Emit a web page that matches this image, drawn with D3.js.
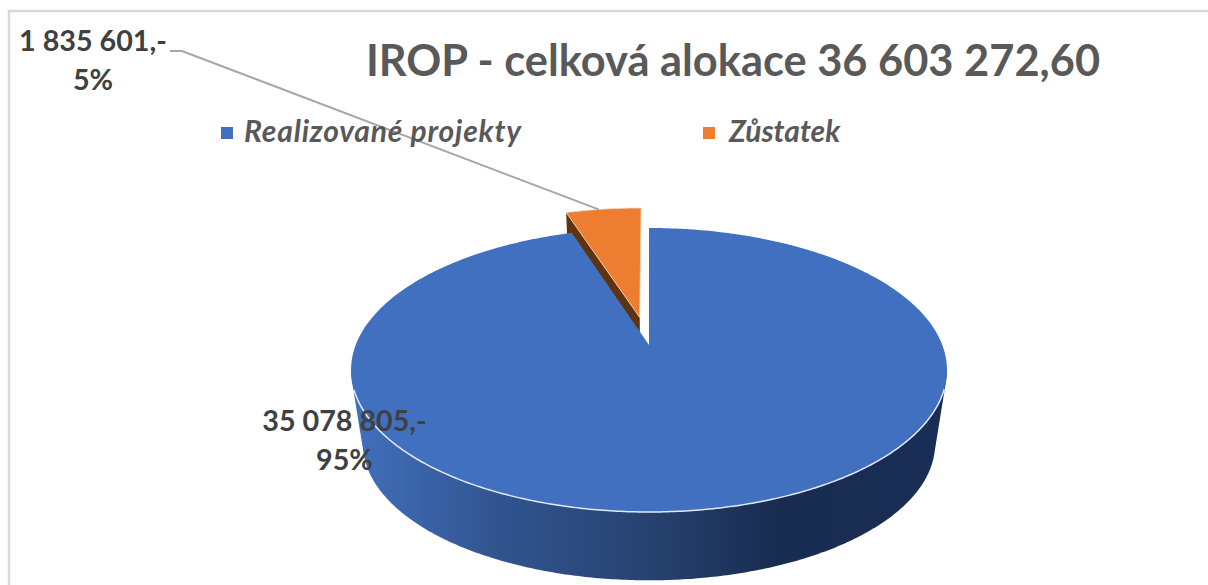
<!DOCTYPE html>
<html>
<head>
<meta charset="utf-8">
<script src="https://cdn.jsdelivr.net/npm/d3@7"></script>
<style>
html, body { margin: 0; padding: 0; background: #fff; overflow: hidden; }
text { font-family: Lato, "Open Sans", sans-serif; }
</style>
</head>
<body>
<div id="chart"></div>
<script>
var chartTitle = "IROP - celková alokace 36 603 272,60";
var categories = ["Realizované projekty", "Zůstatek"];
var values = [35078805, 1835601];
var valueLabels = ["35 078 805,-", "1 835 601,-"];
var percentLabels = ["95%", "5%"];
var colors = ["#4270c0", "#ed7d31"];

var width = 1208, height = 585;

// pie is seen in perspective, so the centre is above the middle of the ellipse
var cx = 649, cy = 345,
    rx = 293.3, ry = 137.6,
    persp = -0.176,
    depth = 75, lowScale = 0.96,
    explode = 0.21;

var svg = d3.select("#chart").append("svg")
    .attr("width", width)
    .attr("height", height)
    .style("display", "block");

// chart frame, only top and left are in the picture
svg.append("path")
    .attr("d", d3.line()([[9, height], [9, 11], [width, 11]]))
    .attr("fill", "none")
    .attr("stroke", "#d9d9d9")
    .attr("stroke-width", 2.5);

var defs = svg.append("defs");
var grad = defs.append("linearGradient")
    .attr("id", "sideGrad")
    .attr("gradientUnits", "userSpaceOnUse")
    .attr("x1", 351).attr("x2", 947)
    .attr("y1", 0).attr("y2", 0);
[[0, "#4270bd"], [0.25, "#31548f"], [0.5, "#27426f"], [0.72, "#182b50"], [1, "#1a2e55"]]
    .forEach(function (s) {
        grad.append("stop").attr("offset", s[0]).attr("stop-color", s[1]);
    });

// d3 angle + plane offset -> screen point
function project(angle, r, offU, offV, low) {
    var u = r * Math.sin(angle) + offU,
        v = -r * Math.cos(angle) + offV,
        w = 1 + persp * v,
        x = rx * u / w,
        y = ry * v / w;
    if (low) return [cx + x * lowScale, cy + depth + y * lowScale];
    return [cx + x, cy + y];
}

var arcs = d3.pie().sort(null).value(function (d) { return d; })(values);
var line = d3.line();
var blue = arcs[0], orange = arcs[1];

function arcPoints(a, offU, offV, low) {
    return d3.range(a.startAngle, a.endAngle, 0.01)
        .concat([a.endAngle])
        .map(function (t) { return project(t, 1, offU, offV, low); });
}

// orange slice, pulled out along its middle angle
var mid = (orange.startAngle + orange.endAngle) / 2,
    offU = explode * Math.sin(mid),
    offV = -explode * Math.cos(mid);

// cut face, the blue top hides most of it
svg.append("path")
    .attr("d", line([
        project(0, 0, offU, offV, false),
        project(orange.startAngle, 1, offU, offV, false),
        project(orange.startAngle, 1, offU, offV, true),
        project(0, 0, offU, offV, true)
    ]) + "Z")
    .attr("fill", "#5f3210");

svg.append("path")
    .attr("d", line([project(0, 0, offU, offV, false)].concat(arcPoints(orange, offU, offV, false))) + "Z")
    .attr("fill", colors[1])
    .attr("stroke", "#f6d9c4")
    .attr("stroke-width", 0.8);

// blue side wall: hull of the front half of the top and bottom rims
var frontPts = d3.range(0, 2 * Math.PI, 0.01)
    .filter(function (t) { return -Math.cos(t) >= -persp; });
var rimPts = frontPts.map(function (t) { return project(t, 1, 0, 0, false); })
    .concat(frontPts.map(function (t) { return project(t, 1, 0, 0, true); }));

svg.append("path")
    .attr("d", line(d3.polygonHull(rimPts)) + "Z")
    .attr("fill", "url(#sideGrad)");

// blue top
svg.append("path")
    .attr("d", line([project(0, 0, 0, 0, false)].concat(arcPoints(blue, 0, 0, false))) + "Z")
    .attr("fill", colors[0]);

// light edge along the front of the top
svg.append("path")
    .attr("d", line(frontPts.filter(function (t) { return -Math.cos(t) >= 0.3; })
        .map(function (t) { return project(t, 1, 0, 0, false); })))
    .attr("fill", "none")
    .attr("stroke", "#e4eaf5")
    .attr("stroke-width", 1.5);

// leader line
var tip = project(mid - 0.02, 1, offU, offV, false);
svg.append("path")
    .attr("d", line([[170, 51], [182, 51], tip]))
    .attr("fill", "none")
    .attr("stroke", "#a6a6a6")
    .attr("stroke-width", 2);

svg.append("text")
    .attr("x", 733).attr("y", 76)
    .attr("text-anchor", "middle")
    .attr("font-size", 43.4)
    .attr("font-weight", 700)
    .attr("fill", "#595959")
    .text(chartTitle);

// legend
var legendX = [221, 703];
var legend = svg.selectAll(".legend").data(categories).enter().append("g")
    .attr("class", "legend")
    .attr("transform", function (d, i) { return "translate(" + legendX[i] + ",127)"; });
legend.append("rect")
    .attr("width", 12).attr("height", 12)
    .attr("fill", function (d, i) { return colors[i]; });
legend.append("text")
    .attr("x", function (d, i) { return i ? 26 : 23; })
    .attr("y", 15)
    .attr("font-size", 30)
    .attr("letter-spacing", function (d, i) { return i ? 0 : 0.8; })
    .attr("font-weight", 700)
    .attr("font-style", "italic")
    .attr("fill", "#595959")
    .text(function (d) { return d; });

// data labels
var labelX = [344.5, 93], labelY = [431, 51];
var labels = svg.selectAll(".dlabel").data(values).enter().append("text")
    .attr("class", "dlabel")
    .attr("text-anchor", "middle")
    .attr("font-size", 28.7)
    .attr("font-weight", 700)
    .attr("fill", "#404040");
labels.append("tspan")
    .attr("x", function (d, i) { return labelX[i]; })
    .attr("y", function (d, i) { return labelY[i]; })
    .text(function (d, i) { return valueLabels[i]; });
labels.append("tspan")
    .attr("x", function (d, i) { return labelX[i]; })
    .attr("y", function (d, i) { return labelY[i] + 39; })
    .text(function (d, i) { return percentLabels[i]; });
</script>
</body>
</html>
